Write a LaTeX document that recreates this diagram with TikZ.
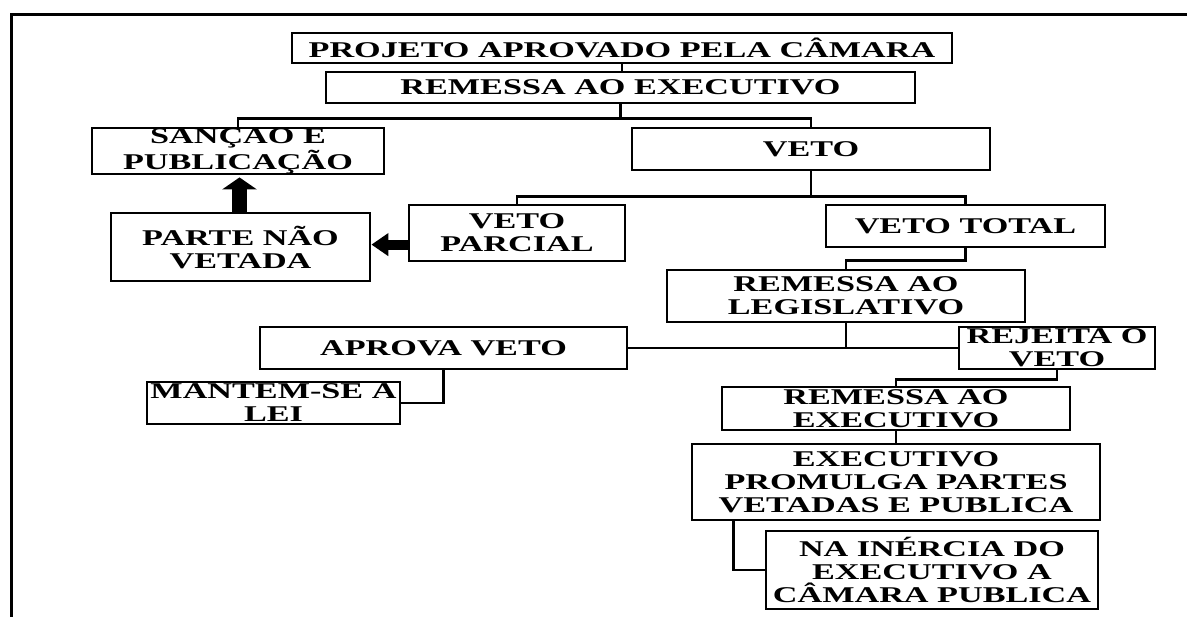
\documentclass[tikz,border=0pt]{standalone}
\usepackage{fontspec}
\newfontfamily\boxfont[FakeStretch=1.52]{Liberation Serif}
\usetikzlibrary{arrows.meta}

\begin{document}
\begin{tikzpicture}[x=0.5pt,y=-0.5pt,
  box/.style={draw,line width=1.4pt,inner sep=0pt,align=center,
    font=\boxfont\bfseries\fontsize{11.25}{11.5}\selectfont},
  link/.style={line width=1.4pt},
  bigarrow/.style={line width=#1}]
 \useasboundingbox (0,0) rectangle (1187,617);
 \draw[line width=1.5pt] (1187,14) -- (11,14) -- (11,617);
 % top of the chart
 \node[box,minimum width=330pt,minimum height=15pt] (proj) at (622,48) {PROJETO APROVADO PELA CÂMARA};
 \node[box,minimum width=294.5pt,minimum height=15.5pt] (rem1) at (620.5,87.5) {REMESSA AO EXECUTIVO};
 \node[box,minimum width=146pt,minimum height=23pt] (sanc) at (238,151) {SANÇAO E\\PUBLICAÇÃO};
 \node[box,minimum width=179pt,minimum height=21pt] (veto) at (811,149) {VETO};
 \node[box,minimum width=108pt,minimum height=28pt] (parc) at (517,233) {VETO\\PARCIAL};
 \node[box,minimum width=139.5pt,minimum height=21pt] (total) at (965.5,226) {VETO TOTAL};
 \node[box,minimum width=129.5pt,minimum height=34pt] (parte) at (240.5,247) {PARTE NÃO\\VETADA};
 \node[box,minimum width=179pt,minimum height=26pt] (remleg) at (846,296) {REMESSA AO\\LEGISLATIVO};
 % after the veto goes back
 \node[box,minimum width=183.5pt,minimum height=21pt] (aprova) at (443.5,348) {APROVA VETO};
 \node[box,minimum width=98pt,minimum height=21pt] (rejeita) at (1057,348) {REJEITA O\\VETO};
 \node[box,minimum width=126.5pt,minimum height=21pt] (mantem) at (273.5,403) {MANTEM-SE A\\LEI};
 \node[box,minimum width=174pt,minimum height=21.5pt] (rem2) at (896,408.5) {REMESSA AO\\EXECUTIVO};
 \node[box,minimum width=204pt,minimum height=38pt] (prom) at (896,482) {EXECUTIVO\\PROMULGA PARTES\\VETADAS E PUBLICA};
 \node[box,minimum width=166pt,minimum height=39pt] (inerc) at (932,570) {NA INÉRCIA DO\\EXECUTIVO A\\CÂMARA PUBLICA};
 % connectors
 \draw[link] (proj.south) -- (proj.south |- rem1.north);
 \draw[link] (rem1.south) -- ++(0,14) coordinate (j1);
 \draw[link] (sanc.north) |- (j1) -| (veto.north);
 \draw[link] (veto.south) -- ++(0,25) coordinate (j2);
 \draw[link] (parc.north) |- (j2) -| (total.north);
 \draw[link] (total.south) -- ++(0,12) -| (remleg.north);
 \draw[link] (remleg.south) -- (remleg.south |- aprova.east);
 \draw[link] (aprova.east) -- (rejeita.west);
 \draw[link] (aprova.south) |- (mantem.east);
 \draw[link] (rejeita.south) -- ++(0,9) -| (rem2.north);
 \draw[link] (rem2.south) -- (prom.north);
 \draw[link] ([xshift=21.5pt]prom.south west) |- (inerc.west);
 \draw[bigarrow=7.5pt,-{Triangle[width=17pt,length=6pt]}] ([xshift=-0.5pt]parte.north) -- ([xshift=-0.5pt,yshift=-1pt]parte.north |- sanc.south);
 \draw[bigarrow=5pt,-{Triangle[width=11pt,length=8.5pt]}] ([yshift=1.2pt]parte.east -| parc.west) -- ([yshift=1.2pt]parte.east);
\end{tikzpicture}
\end{document}
